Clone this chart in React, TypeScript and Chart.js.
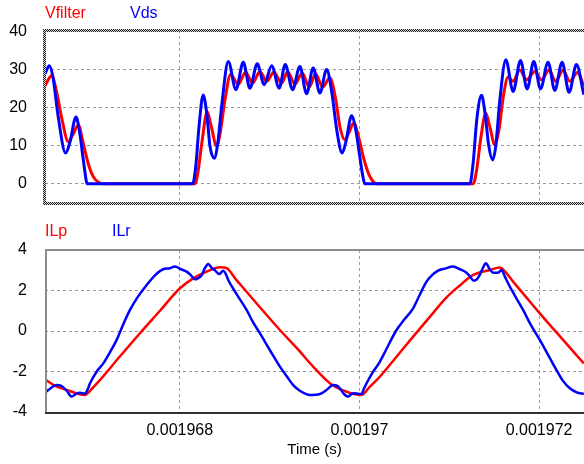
import { useEffect, useRef } from "react";
import { Chart, registerables } from "chart.js";

Chart.register(...registerables);

// Time base in microseconds; tick labels show seconds.
const X_MIN = 1966.5;
const X_MAX = 1972.5;

const timeTicks = [1968, 1970, 1972];
const timeTickLabels = ["0.001968", "0.00197", "0.001972"];
const voltTicks = [0, 10, 20, 30, 40];
const currentTicks = [-4, -2, 0, 2, 4];

// Vds (V)
const vdsTime = [
  1966.5, 1966.548, 1966.589, 1966.645, 1966.73, 1966.778, 1966.845, 1966.889, 1966.934, 1966.971,
  1968.143, 1968.18, 1968.214, 1968.261, 1968.303, 1968.336, 1968.384, 1968.425, 1968.469, 1968.54,
  1968.625, 1968.707, 1968.781, 1968.862, 1968.94, 1969.023, 1969.107, 1969.174, 1969.256, 1969.337,
  1969.412, 1969.485, 1969.56, 1969.635, 1969.693, 1969.749, 1969.808, 1969.849, 1969.913, 1969.961,
  1970.005, 1970.038, 1970.061, 1971.229, 1971.268, 1971.307, 1971.359, 1971.396, 1971.44, 1971.482,
  1971.518, 1971.563, 1971.63, 1971.711, 1971.793, 1971.867, 1971.941, 1972.016, 1972.1, 1972.175,
  1972.256, 1972.334, 1972.416, 1972.498,
];
const vdsVolts = [
  29, 31.1, 28, 18, 8.1, 11, 17.6, 13, 5, 0,
  0, 5, 15, 23.4, 18, 10, 6.75, 11, 21, 32.2,
  24.8, 32.0, 25.2, 31.6, 26.1, 31.1, 25.2, 31.4, 24.8, 30.9,
  23.7, 30.5, 23.9, 30.1, 24, 14, 8.1, 11, 17.9, 14,
  7, 2, 0, 0, 6, 17, 23.3, 19, 10, 6.3,
  10, 22, 32.7, 24.3, 32.5, 25, 32.2, 25, 32, 24.6,
  32, 24.1, 31.4, 23.5,
];

// Vfilter (V)
const vfilterTime = [
  1966.5, 1966.575, 1966.622, 1966.689, 1966.759, 1966.812, 1966.871, 1966.923, 1966.979, 1967.037,
  1967.09, 1967.145, 1968.169, 1968.202, 1968.247, 1968.306, 1968.347, 1968.411, 1968.447, 1968.503,
  1968.566, 1968.651, 1968.733, 1968.811, 1968.892, 1968.967, 1969.048, 1969.134, 1969.201, 1969.282,
  1969.363, 1969.441, 1969.512, 1969.59, 1969.671, 1969.738, 1969.783, 1969.838, 1969.883, 1969.938,
  1969.994, 1970.05, 1970.105, 1970.15, 1970.194, 1971.266, 1971.307, 1971.351, 1971.407, 1971.452,
  1971.507, 1971.552, 1971.602, 1971.655, 1971.711, 1971.785, 1971.86, 1971.952, 1972.027, 1972.111,
  1972.183, 1972.267, 1972.342, 1972.427, 1972.498,
];
const vfilterVolts = [
  25.8, 28.5, 25, 17, 11.1, 13, 15.5, 11, 5.5, 1.9,
  0.5, 0, 0, 3, 11, 19.0, 15.5, 10.0, 13, 22,
  28.8, 26.2, 29.4, 26.5, 29.6, 27.0, 29.4, 26.5, 29.5, 26.2,
  29.2, 25.5, 28.9, 25.5, 27.9, 22, 15, 11.6, 13.5, 16,
  12, 6.5, 2.5, 0.7, 0, 0, 4, 12, 18.6, 15,
  10.3, 14, 23, 28.1, 27.0, 30.0, 27.4, 29.6, 27.4, 30,
  27, 29.9, 27, 29.3, 25.8,
];

// ILp (A)
const ilpTime = [
  1966.5, 1966.63, 1966.741, 1966.853, 1966.945, 1967.023, 1967.112, 1967.335, 1967.557, 1967.78,
  1968.002, 1968.15, 1968.299, 1968.447, 1968.522, 1968.625, 1968.744, 1968.926, 1969.115, 1969.304,
  1969.485, 1969.671, 1969.857, 1970.024, 1970.116, 1970.227, 1970.413, 1970.598, 1970.784, 1970.97,
  1971.118, 1971.266, 1971.451, 1971.563, 1971.629, 1971.711, 1971.86, 1972.008, 1972.267, 1972.498,
];
const ilpAmps = [
  -2.39, -2.75, -2.91, -3.08, -3.16, -2.85, -2.42, -1.25, -0.11, 1.0,
  2.11, 2.6, 2.93, 3.15, 3.1, 2.55, 1.94, 1.0, 0.05, -0.85,
  -1.76, -2.58, -3.0, -3.16, -2.75, -2.26, -1.27, -0.28, 0.7, 1.66,
  2.25, 2.77, 3.01, 3.13, 2.9, 2.44, 1.65, 0.87, -0.44, -1.6,
];

// ILr (A)
const ilrTime = [
  1966.5, 1966.556, 1966.63, 1966.686, 1966.741, 1966.797, 1966.845, 1966.889, 1966.945, 1966.978,
  1967.001, 1967.075, 1967.149, 1967.223, 1967.298, 1967.368, 1967.446, 1967.535, 1967.632, 1967.724,
  1967.816, 1967.891, 1967.947, 1968.013, 1968.077, 1968.125, 1968.169, 1968.202, 1968.244, 1968.28,
  1968.317, 1968.358, 1968.392, 1968.439, 1968.484, 1968.514, 1968.54, 1968.636, 1968.744, 1968.814,
  1968.892, 1969.004, 1969.115, 1969.193, 1969.263, 1969.337, 1969.449, 1969.56, 1969.638, 1969.708,
  1969.749, 1969.782, 1969.827, 1969.875, 1969.916, 1969.949, 1969.983, 1970.024, 1970.05, 1970.08,
  1970.153, 1970.227, 1970.294, 1970.413, 1970.506, 1970.598, 1970.673, 1970.747, 1970.806, 1970.876,
  1970.951, 1971.043, 1971.118, 1971.192, 1971.229, 1971.273, 1971.307, 1971.34, 1971.373, 1971.407,
  1971.451, 1971.488, 1971.544, 1971.582, 1971.618, 1971.655, 1971.73, 1971.822, 1971.908, 1972.008,
  1972.097, 1972.194, 1972.264, 1972.342, 1972.42, 1972.498,
];
const ilrAmps = [
  -3.05, -2.85, -2.67, -2.72, -2.95, -3.24, -3.1, -3.05, -3.1, -2.85,
  -2.58, -2.01, -1.6, -1.05, -0.44, 0.3, 1.04, 1.7, 2.27, 2.75,
  3.05, 3.1, 3.18, 3.05, 2.93, 2.75, 2.55, 2.6, 2.75, 3.1,
  3.31, 3.1, 3.0, 2.81, 2.98, 2.8, 2.52, 1.8, 1.04, 0.45,
  -0.11, -0.95, -1.76, -2.25, -2.67, -2.95, -3.16, -3.11, -2.9, -2.67,
  -2.7, -2.83, -3.1, -3.24, -3.1, -3.08, -3.1, -3.11, -2.85, -2.58,
  -2.01, -1.52, -0.95, 0.05, 0.6, 1.12, 1.8, 2.44, 2.75, 2.98,
  3.08, 3.18, 3.05, 2.88, 2.7, 2.48, 2.55, 2.77, 3.1, 3.34,
  3.05, 2.88, 2.88, 3.01, 2.7, 2.36, 1.75, 1.04, 0.3, -0.44,
  -1.15, -1.93, -2.45, -2.83, -3.03, -3.11,
];

const RED = "#ff0000";
const BLUE = "#0000ff";
const FONT_FAMILY = '"Liberation Sans", Arial, sans-serif';
const GRID_COLOR = "#9a9a9a";

const toPoints = (t: number[], v: number[]) => t.map((x, i) => ({ x, y: v[i] }));

type PanelLabel = { text: string; color: string; x: number };

// Draws the waveform names above a panel and the panel frame.
function panelDecor(labels: PanelLabel[], labelY: number, selected: boolean) {
  return {
    id: "panelDecor",
    afterDraw(chart: any) {
      const ctx: CanvasRenderingContext2D = chart.ctx;
      const a = chart.chartArea;
      const w = chart.width;
      ctx.save();
      ctx.font = `16px ${FONT_FAMILY}`;
      ctx.textBaseline = "middle";
      ctx.textAlign = "left";
      for (const l of labels) {
        ctx.fillStyle = l.color;
        ctx.fillText(l.text, l.x, labelY);
      }
      if (selected) {
        // checkered frame of the active panel
        const tile = document.createElement("canvas");
        tile.width = 2;
        tile.height = 2;
        const tc = tile.getContext("2d")!;
        tc.fillStyle = "#d8d8d8";
        tc.fillRect(0, 0, 2, 2);
        tc.fillStyle = "#202020";
        tc.fillRect(0, 0, 1, 1);
        tc.fillRect(1, 1, 1, 1);
        ctx.strokeStyle = ctx.createPattern(tile, "repeat")!;
        ctx.lineWidth = 3;
        ctx.beginPath();
        ctx.moveTo(w + 4, a.top + 0.5);
        ctx.lineTo(a.left - 0.5, a.top + 0.5);
        ctx.lineTo(a.left - 0.5, a.bottom - 0.5);
        ctx.lineTo(w + 4, a.bottom - 0.5);
        ctx.stroke();
      } else {
        ctx.lineWidth = 2;
        ctx.strokeStyle = "#8c8c8c";
        ctx.beginPath();
        ctx.moveTo(w + 4, a.top);
        ctx.lineTo(a.left + 1, a.top);
        ctx.lineTo(a.left + 1, a.bottom);
        ctx.stroke();
        ctx.strokeStyle = "#303030";
        ctx.beginPath();
        ctx.moveTo(a.left, a.bottom + 1);
        ctx.lineTo(w + 4, a.bottom + 1);
        ctx.stroke();
      }
      ctx.restore();
    },
  };
}

const tickFont = { family: FONT_FAMILY, size: 16 };

function xScale(showLabels: boolean, height: number) {
  return {
    type: "linear" as const,
    min: X_MIN,
    max: X_MAX,
    afterBuildTicks: (s: any) => {
      s.ticks = timeTicks.map((value) => ({ value }));
    },
    afterFit: (s: any) => {
      s.height = height;
      s.paddingLeft = 0;
      s.paddingRight = 0;
    },
    grid: { color: GRID_COLOR, lineWidth: 1, drawTicks: false, tickLength: 0 },
    border: { display: false, dash: [3, 3] },
    ticks: {
      display: showLabels,
      autoSkip: false,
      maxRotation: 0,
      padding: 9,
      color: "#000",
      font: tickFont,
      callback: (v: any) => {
        const i = timeTicks.indexOf(Number(v));
        return i >= 0 ? timeTickLabels[i] : "";
      },
    },
    title: showLabels
      ? {
          display: true,
          text: "Time (s)",
          color: "#000",
          font: { family: FONT_FAMILY, size: 15 },
          padding: { top: 0, bottom: 5 },
        }
      : { display: false },
  };
}

function yScale(min: number, max: number, ticks: number[]) {
  return {
    type: "linear" as const,
    min,
    max,
    afterBuildTicks: (s: any) => {
      s.ticks = ticks.map((value) => ({ value }));
    },
    afterFit: (s: any) => {
      s.width = 45;
      s.paddingTop = 0;
      s.paddingBottom = 0;
    },
    grid: { color: GRID_COLOR, lineWidth: 1, drawTicks: false, tickLength: 0 },
    border: { display: false, dash: [3, 3] },
    ticks: { padding: 18, color: "#000", font: tickFont, autoSkip: false },
  };
}

const line = (label: string, pts: any[], color: string, width: number, order: number) => ({
  label,
  data: pts,
  borderColor: color,
  backgroundColor: color,
  borderWidth: width,
  pointRadius: 0,
  fill: false,
  cubicInterpolationMode: "monotone" as const,
  order,
});

export default function App() {
  const topRef = useRef<HTMLCanvasElement>(null);
  const bottomRef = useRef<HTMLCanvasElement>(null);

  useEffect(() => {
    const common = {
      responsive: false,
      devicePixelRatio: 1,
      animation: false as const,
      events: [] as any[],
      plugins: { legend: { display: false }, tooltip: { enabled: false } },
    };

    const voltage = new Chart(topRef.current!, {
      type: "line",
      data: {
        datasets: [
          line("Vds", toPoints(vdsTime, vdsVolts), BLUE, 3, 0),
          line("Vfilter", toPoints(vfilterTime, vfilterVolts), RED, 3, 1),
        ],
      },
      options: {
        ...common,
        layout: { padding: { top: 30, left: 0, right: 0, bottom: 0 } },
        scales: { x: xScale(false, 11), y: yScale(-5.3, 40.5, voltTicks) },
      } as any,
      plugins: [
        panelDecor(
          [
            { text: "Vfilter", color: RED, x: 45 },
            { text: "Vds", color: BLUE, x: 130 },
          ],
          14,
          true
        ),
      ],
    });

    const current = new Chart(bottomRef.current!, {
      type: "line",
      data: {
        datasets: [
          line("ILr", toPoints(ilrTime, ilrAmps), BLUE, 2.5, 0),
          line("ILp", toPoints(ilpTime, ilpAmps), RED, 2.5, 1),
        ],
      },
      options: {
        ...common,
        layout: { padding: { top: 35, left: 0, right: 0, bottom: 0 } },
        scales: { x: xScale(true, 52), y: yScale(-4, 4, currentTicks) },
      } as any,
      plugins: [
        panelDecor(
          [
            { text: "ILp", color: RED, x: 45 },
            { text: "ILr", color: BLUE, x: 112 },
          ],
          17,
          false
        ),
      ],
    });

    return () => {
      voltage.destroy();
      current.destroy();
    };
  }, []);

  return (
    <div
      style={{
        position: "absolute",
        left: 0,
        top: 0,
        width: 584,
        height: 464,
        background: "#fff",
        overflow: "hidden",
      }}
    >
      <canvas
        ref={topRef}
        width={584}
        height={215}
        style={{ position: "absolute", left: 0, top: 0, width: 584, height: 215 }}
      />
      <canvas
        ref={bottomRef}
        width={584}
        height={249}
        style={{ position: "absolute", left: 0, top: 215, width: 584, height: 249 }}
      />
    </div>
  );
}
